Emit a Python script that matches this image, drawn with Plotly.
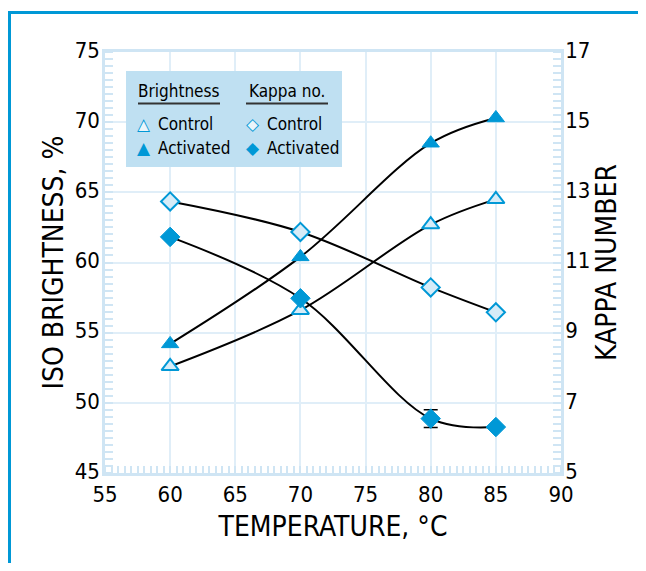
import plotly.graph_objects as go

# ---- data ----
temperature = [60, 70, 80, 85]
brightness_control = [52.6, 56.6, 62.7, 64.5]
brightness_activated = [54.2, 60.4, 68.5, 70.3]
kappa_control = [12.74, 11.87, 10.29, 9.58]
kappa_activated = [11.73, 9.98, 6.55, 6.31]
kappa_activated_err = [0, 0, 0.25, 0]

x_ticks = [55, 60, 65, 70, 75, 80, 85, 90]
y_ticks = [45, 50, 55, 60, 65, 70, 75]
y2_ticks = [5, 7, 9, 11, 13, 15, 17]

# ---- style ----
W, H = 638, 555
OFF = 8  # page body margin
ML, MR, MT, MB = 97, 85, 44, 90
PW, PH = W - ML - MR, H - MT - MB
BLUE = "#0098d6"
LIGHT = "#d6ecf8"
GRID = "#e0eef8"
AXIS = "#cfe5f4"
FONT = "DejaVu Sans Condensed, Liberation Sans Narrow, sans-serif"


def px(x):
    return (x - OFF - ML) / PW


def py(y):
    return (H - MB - (y - OFF)) / PH


fig = go.Figure()

common_line = dict(color="black", width=2, shape="spline", smoothing=1.0)

fig.add_trace(go.Scatter(
    x=temperature, y=brightness_control, mode="lines+markers",
    line=common_line,
    marker=dict(symbol="triangle-up", size=15, color=LIGHT,
                line=dict(color=BLUE, width=2)),
    showlegend=False))
fig.add_trace(go.Scatter(
    x=temperature, y=brightness_activated, mode="lines+markers",
    line=common_line,
    marker=dict(symbol="triangle-up", size=15, color=BLUE,
                line=dict(color=BLUE, width=1)),
    showlegend=False))
fig.add_trace(go.Scatter(
    x=temperature, y=kappa_control, mode="lines+markers", yaxis="y2",
    line=common_line,
    marker=dict(symbol="diamond", size=14, color=LIGHT,
                line=dict(color=BLUE, width=2)),
    showlegend=False))
fig.add_trace(go.Scatter(
    x=temperature, y=kappa_activated, mode="lines+markers", yaxis="y2",
    line=common_line,
    error_y=dict(type="data", array=kappa_activated_err, visible=True,
                 color="black", thickness=1.5, width=7),
    marker=dict(symbol="diamond", size=15, color=BLUE,
                line=dict(color=BLUE, width=1)),
    showlegend=False))

tickfont = dict(family=FONT, size=22, color="black")
titlefont = dict(family=FONT, size=28, color="black")

fig.update_layout(
    width=W, height=H,
    margin=dict(l=ML, r=MR, t=MT, b=MB, autoexpand=False),
    paper_bgcolor="white", plot_bgcolor="white",
    font=dict(family=FONT),
    xaxis=dict(
        range=[55, 90], tickvals=x_ticks, ticktext=[str(v) for v in x_ticks],
        showgrid=True, gridcolor=GRID, gridwidth=1.5,
        showline=True, linecolor=AXIS, linewidth=2.5, mirror=True,
        ticks="", zeroline=False,
        minor=dict(dtick=0.5, ticks="inside", ticklen=7, tickcolor=AXIS,
                   tickwidth=1.5, showgrid=False),
        tickfont=tickfont, ticklabelstandoff=0,
        title=dict(text="TEMPERATURE, °C", font=titlefont, standoff=11),
    ),
    yaxis=dict(
        range=[45, 75], tickvals=y_ticks, ticktext=[str(v) for v in y_ticks],
        showgrid=True, gridcolor=GRID, gridwidth=1.5,
        showline=True, linecolor=AXIS, linewidth=2.5,
        ticks="", zeroline=False,
        minor=dict(dtick=0.5, ticks="inside", ticklen=8, tickcolor=AXIS,
                   tickwidth=1.5, showgrid=False),
        tickfont=tickfont, ticklabelstandoff=-2, ticklabelshift=-2,
        title=dict(text="ISO BRIGHTNESS, %", font=titlefont, standoff=3),
    ),
    yaxis2=dict(
        range=[5, 17], tickvals=y2_ticks, ticktext=[str(v) for v in y2_ticks],
        overlaying="y", side="right",
        showgrid=False, showline=True, linecolor=AXIS, linewidth=2.5,
        ticks="", zeroline=False,
        minor=dict(dtick=0.2, ticks="inside", ticklen=8, tickcolor=AXIS,
                   tickwidth=1.5, showgrid=False),
        tickfont=tickfont, ticklabelstandoff=-3, ticklabelshift=-2,
        title=dict(text="KAPPA NUMBER", font=titlefont, standoff=8),
    ),
)

# ---- outer frame (top and left border) ----
fig.add_shape(type="line", xref="paper", yref="paper",
              x0=px(9.5), x1=px(9.5), y0=py(11), y1=py(H + 40),
              line=dict(color=BLUE, width=3))
fig.add_shape(type="line", xref="paper", yref="paper",
              x0=px(8), x1=px(W + 20), y0=py(12.5), y1=py(12.5),
              line=dict(color=BLUE, width=3))

# ---- legend box ----
fig.add_shape(type="rect", xref="paper", yref="paper",
              x0=px(126), x1=px(342), y0=py(167), y1=py(71),
              fillcolor="#bfe0f2", line=dict(width=0), layer="above")
for a, b in [(138, 220), (246, 328)]:
    fig.add_shape(type="line", xref="paper", yref="paper",
                  x0=px(a), x1=px(b), y0=py(103.5), y1=py(103.5),
                  line=dict(color="#333333", width=2), layer="above")

legend_font = dict(family=FONT, size=17, color="black")
sym_font = dict(family="DejaVu Sans", size=17, color=BLUE)
sym_fill = dict(family="DejaVu Sans", size=17, color="#eaf5fb")


def ann(text, x, y, font, xanchor="left"):
    fig.add_annotation(text=text, xref="paper", yref="paper",
                       x=px(x), y=py(y), xanchor=xanchor, yanchor="middle",
                       showarrow=False, font=font)


ann("Brightness", 179, 91, legend_font, "center")
ann("Kappa no.", 287, 91, legend_font, "center")
ann("▲", 144, 124, sym_fill, "center")
ann("△", 144, 124, sym_font, "center")
ann("▲", 144, 148, sym_font, "center")
ann("◆", 253, 124, sym_fill, "center")
ann("◇", 253, 124, sym_font, "center")
ann("◆", 253, 148, sym_font, "center")
ann("Control", 156, 124, legend_font)
ann("Activated", 156, 148, legend_font)
ann("Control", 265, 124, legend_font)
ann("Activated", 265, 148, legend_font)

fig.write_html("out.html", config={"displayModeBar": False})
